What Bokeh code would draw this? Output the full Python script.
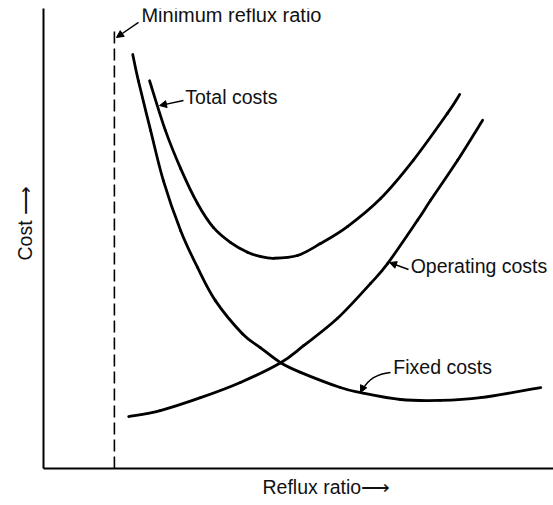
from bokeh.plotting import figure
from bokeh.models import Label, Arrow, NormalHead, FixedTicker, Range1d, Title
from bokeh.embed import file_html
from bokeh.resources import INLINE

# ---- data (arbitrary units) ----
min_reflux = 1.39
min_reflux_top = 9.52

fixed_x = [1.75, 1.86, 2.10, 2.35, 2.69, 3.02, 3.37, 3.90, 4.25, 4.65, 5.04, 5.82, 6.22, 7.00, 7.78, 8.57, 9.75]
fixed_y = [9.00, 8.43, 7.35, 6.26, 5.17, 4.37, 3.65, 2.93, 2.63, 2.30, 2.09, 1.76, 1.65, 1.50, 1.48, 1.54, 1.76]

oper_x = [1.67, 2.29, 3.08, 3.86, 4.65, 5.10, 5.76, 6.41, 6.75, 7.33, 7.59, 8.12, 8.61]
oper_y = [1.13, 1.26, 1.54, 1.87, 2.30, 2.67, 3.26, 4.02, 4.46, 5.39, 5.83, 6.70, 7.57]

total_x = [2.08, 2.39, 2.69, 3.02, 3.33, 3.67, 4.00, 4.25, 4.51, 4.98, 5.43, 5.96, 6.61, 7.25, 7.92, 8.16]
total_y = [8.43, 7.35, 6.52, 5.76, 5.24, 4.91, 4.70, 4.61, 4.57, 4.63, 4.89, 5.26, 5.87, 6.70, 7.72, 8.13]

x_title = "Reflux ratio\u27f6"
y_title = "Cost \u27f6"

FONT = "Liberation Sans"
FS = "19.5px"
INK = "#111111"

p = figure(width=553, height=505, output_backend="svg", toolbar_location=None,
           x_range=Range1d(0, 10), y_range=Range1d(0, 10),
           min_border_left=43, min_border_right=0, min_border_top=8, min_border_bottom=37)
p.outline_line_color = None
p.grid.visible = False
p.background_fill_color = "white"
p.border_fill_color = "white"

for ax in (p.xaxis[0], p.yaxis[0]):
    ax.ticker = FixedTicker(ticks=[])
    ax.axis_line_color = "black"
    ax.axis_line_width = 2
    ax.major_tick_line_color = None
    ax.minor_tick_line_color = None
    ax.major_tick_out = 0
    ax.major_tick_in = 0
    ax.major_label_standoff = 0
    ax.major_label_text_font_size = "0px"

p.add_layout(Title(text=y_title, align="left", offset=208, text_font=FONT,
                   text_font_size=FS, text_font_style="normal", text_color=INK,
                   standoff=15), "left")
p.add_layout(Title(text=x_title, align="left", offset=219, text_font=FONT,
                   text_font_size=FS, text_font_style="normal", text_color=INK,
                   standoff=11), "below")


def smooth(xs, ys):
    """Cubic Bezier pieces (Catmull-Rom) through the read points, for drawing."""
    n = len(xs)
    x0, y0, x1, y1, cx0, cy0, cx1, cy1 = ([] for _ in range(8))
    for i in range(n - 1):
        pa = (xs[max(i - 1, 0)], ys[max(i - 1, 0)])
        pb = (xs[i], ys[i])
        pc = (xs[i + 1], ys[i + 1])
        pd = (xs[min(i + 2, n - 1)], ys[min(i + 2, n - 1)])
        x0.append(pb[0]); y0.append(pb[1]); x1.append(pc[0]); y1.append(pc[1])
        cx0.append(pb[0] + (pc[0] - pa[0]) / 6); cy0.append(pb[1] + (pc[1] - pa[1]) / 6)
        cx1.append(pc[0] - (pd[0] - pb[0]) / 6); cy1.append(pc[1] - (pd[1] - pb[1]) / 6)
    return dict(x0=x0, y0=y0, x1=x1, y1=y1, cx0=cx0, cy0=cy0, cx1=cx1, cy1=cy1)


lw = 2.8
for xs, ys in ((fixed_x, fixed_y), (oper_x, oper_y), (total_x, total_y)):
    p.bezier(source=smooth(xs, ys), x0="x0", y0="y0", x1="x1", y1="y1",
             cx0="cx0", cy0="cy0", cx1="cx1", cy1="cy1",
             line_color="black", line_width=lw, line_cap="round")

# minimum reflux ratio
p.segment(x0=[min_reflux], y0=[0], x1=[min_reflux], y1=[min_reflux_top],
          line_color="black", line_width=1.6, line_dash="12 5")


def lab(x, y, t, fs=FS, **kw):
    p.add_layout(Label(x=x, y=y, text=t, text_font=FONT, text_font_size=fs,
                       text_color=INK, **kw))


lab(1.92, 9.61, "Minimum reflux ratio", fs="20px")
lab(2.78, 7.83, "Total costs")
lab(7.20, 4.17, "Operating costs")
lab(6.86, 1.96, "Fixed costs")


def arr(xs, ys, xe, ye):
    p.add_layout(Arrow(end=NormalHead(size=7, fill_color="black", line_color="black", line_width=1),
                       x_start=xs, y_start=ys, x_end=xe, y_end=ye,
                       line_color="black", line_width=1.4))


arr(1.863, 9.70, 1.431, 9.37)
arr(2.745, 8.00, 2.275, 7.89)
arr(7.157, 4.326, 6.784, 4.478)
# curved leader for "Fixed costs"
p.quadratic(x0=[6.804], y0=[2.087], x1=[6.26], y1=[1.72], cx=[6.412], cy=[2.043],
            line_color="black", line_width=1.4)
arr(6.275, 1.783, 6.216, 1.652)

open("out.html", "w").write(file_html(p, INLINE))
